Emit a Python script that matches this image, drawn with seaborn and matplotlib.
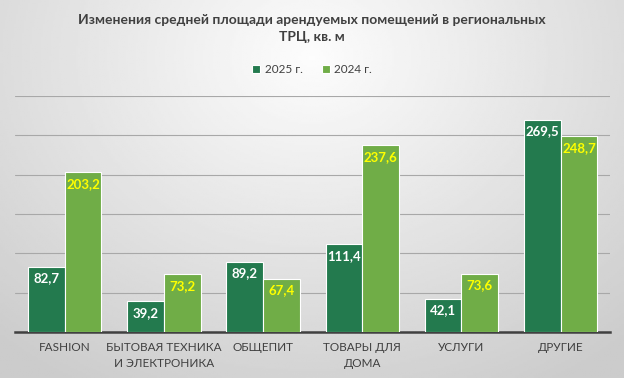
import numpy as np
import pandas as pd
import matplotlib.pyplot as plt
import seaborn as sns

# ============================================================
# data
# ============================================================
categories = ["FASHION", "БЫТОВАЯ ТЕХНИКА\nИ ЭЛЕКТРОНИКА", "ОБЩЕПИТ",
              "ТОВАРЫ ДЛЯ\nДОМА", "УСЛУГИ", "ДРУГИЕ"]
series_names = ["2025 г.", "2024 г."]
values_2025 = [82.7, 39.2, 89.2, 111.4, 42.1, 269.5]
values_2024 = [203.2, 73.2, 67.4, 237.6, 73.6, 248.7]
y_ticks = [0, 50, 100, 150, 200, 250, 300]

colors = ["#237a4e", "#70ad47"]
label_colors = ["white", "#ffff00"]

df = pd.DataFrame({
    "category": categories * 2,
    "year": [series_names[0]] * len(categories) + [series_names[1]] * len(categories),
    "value": values_2025 + values_2024,
})

sns.set_style("white")
plt.rcParams["font.family"] = ["Lato", "DejaVu Sans"]

fig = plt.figure(figsize=(6.24, 3.78), dpi=100)

# soft grey gradient background like the office chart
bg = fig.add_axes([0, 0, 1, 1], zorder=-10)
yy, xx = np.mgrid[0:1:200j, 0:1:300j]
r = np.sqrt(((xx - 0.5) / 0.75) ** 2 + ((yy - 0.15) / 1.0) ** 2)
bg.imshow(0.99 - 0.19 * np.clip(r, 0, 1), cmap="gray", vmin=0, vmax=1,
          aspect="auto", extent=[0, 1, 0, 1], origin="upper")
bg.set_axis_off()

ax = fig.add_axes([0.024, 0.122, 0.954, 0.624])
ax.patch.set_alpha(0)

sns.barplot(data=df, x="category", y="value", hue="year", palette=colors,
            width=0.74, edgecolor="white", linewidth=0.8, saturation=1,
            ax=ax, zorder=3)

ax.set_ylim(0, 300)
ax.set_yticks(y_ticks)
ax.set_yticklabels([])
ax.tick_params(axis="y", length=0)
ax.tick_params(axis="x", length=0, pad=7, labelsize=8.5, labelcolor="#404040")
for lbl in ax.get_xticklabels():
    lbl.set_linespacing(1.55)
ax.yaxis.grid(True, color="#a8a8a8", linewidth=0.8, zorder=0)
ax.set_axisbelow(True)
ax.set_xlabel("")
ax.set_ylabel("")
for side in ["top", "right", "left"]:
    ax.spines[side].set_visible(False)
ax.spines["bottom"].set_color("#404040")
ax.spines["bottom"].set_linewidth(1.8)
ax.set_xlim(-0.5, len(categories) - 0.5)

# value labels inside the top of each bar
for cont, col in zip(ax.containers, label_colors):
    for bar in cont:
        h = bar.get_height()
        ax.annotate(f"{h:.1f}".replace(".", ","),
                    (bar.get_x() + bar.get_width() / 2, h),
                    xytext=(0, -4), textcoords="offset points",
                    ha="center", va="top", color=col, fontsize=9.5,
                    fontweight="bold", zorder=5)

ax.legend(loc="center", bbox_to_anchor=(0.5, 0.815), bbox_transform=fig.transFigure,
          ncol=2, frameon=False, fontsize=8.5, handlelength=0.7, handleheight=0.7,
          columnspacing=1.6, handletextpad=0.4, labelcolor="#404040")

fig.text(0.5, 0.925, "Изменения средней площади арендуемых помещений в региональных\nТРЦ, кв. м",
         ha="center", va="center", fontsize=10, fontweight="bold", color="#404040",
         linespacing=1.5)

fig.savefig("out.png", dpi=100)
